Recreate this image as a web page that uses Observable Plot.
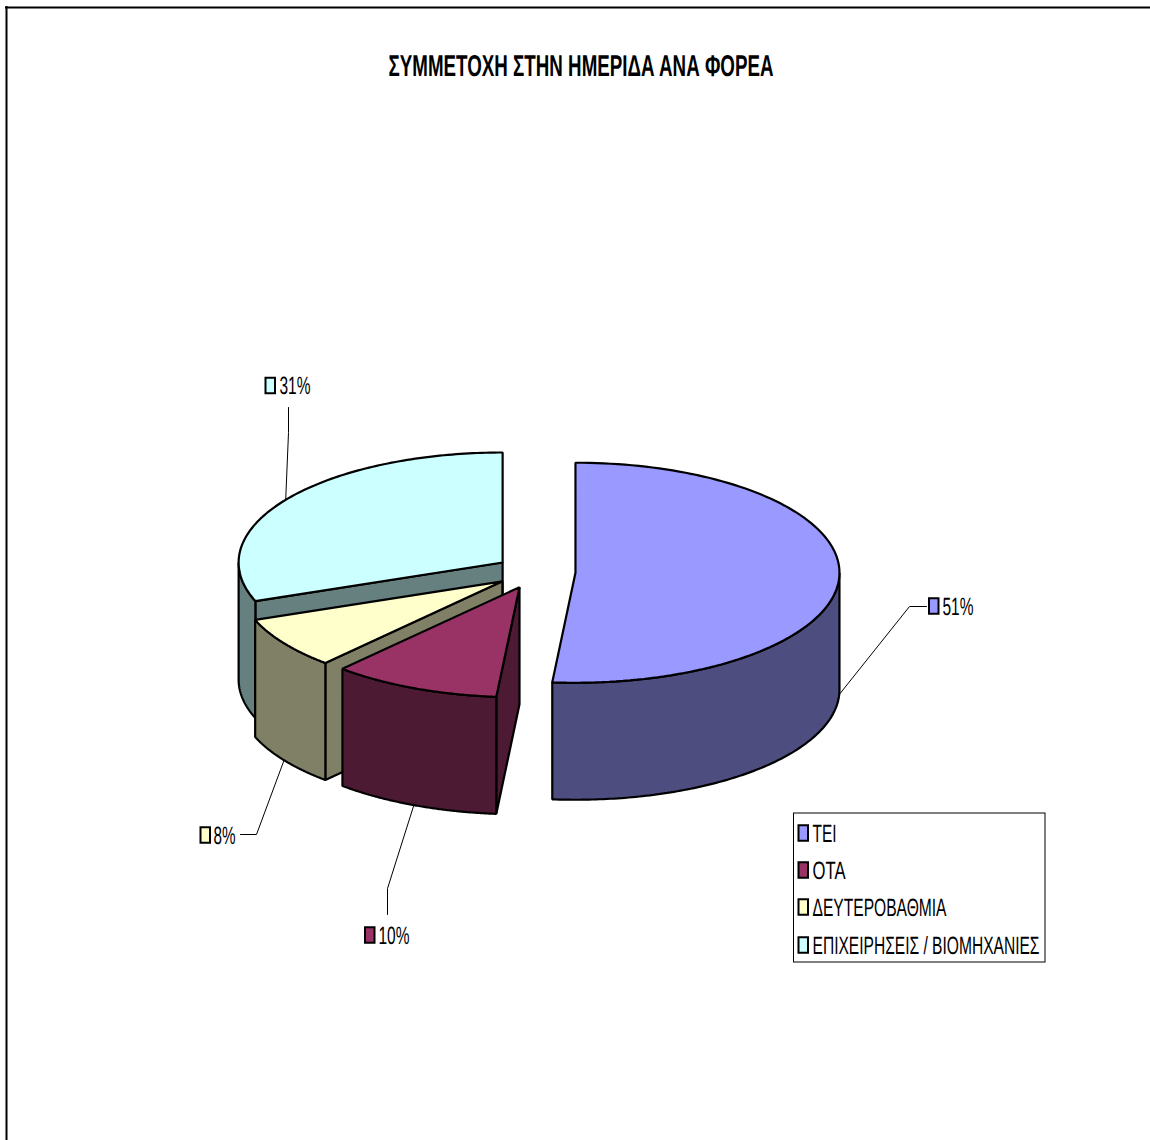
<!DOCTYPE html>
<html>
<head>
<meta charset="utf-8">
<script src="https://cdn.jsdelivr.net/npm/d3@7"></script>
<script src="https://cdn.jsdelivr.net/npm/@observablehq/plot@0.6"></script>
<style>html,body{margin:0;padding:0;background:#fff;overflow:hidden}svg{display:block}svg text{text-rendering:geometricPrecision}</style>
</head>
<body>
<div id="chart"></div>
<script>
const chartTitle = "ΣΥΜΜΕΤΟΧΗ ΣΤΗΝ ΗΜΕΡΙΔΑ ΑΝΑ ΦΟΡΕΑ";
const categories = ["ΤΕΙ", "ΟΤΑ", "ΔΕΥΤΕΡΟΒΑΘΜΙΑ", "ΕΠΙΧΕΙΡΗΣΕΙΣ / ΒΙΟΜΗΧΑΝΙΕΣ"];
const shares = [51.4, 10.3, 7.6, 30.7];
const topColors = ["#9999FF", "#993366", "#FFFFCC", "#CCFFFF"];
const wallColors = ["#4D4D80", "#4D1A33", "#808066", "#668080"];

// Layout of the pseudo-3D pie, in SVG units
const W = 1150, H = 1140;
const pie = {cx: 535, cy: 571.5, rx: 264, ry: 110, depth: 117, explode: 40};
const FONT = "'Liberation Sans', Arial, sans-serif";
// Data label layout: leader elbow, leader end, swatch left, text left, text centre y, text width
const labelLayout = [
  {elbow: [909, 606], end: [926, 606], sx: 929, tx: 942, ty: 606, tw: 31},
  {elbow: [387, 888], end: [387, 914], sx: 365, tx: 378, ty: 935, tw: 31},
  {elbow: [256, 834], end: [240, 834], sx: 200.5, tx: 213, ty: 835, tw: 22},
  {elbow: [288, 432], end: [288, 407], sx: 265.5, tx: 279, ty: 385.5, tw: 31}
];
const legendBox = {x1: 793.5, x2: 1045, y1: 813, y2: 962};
const legendRows = [
  {sx: 798.5, tx: 812, ty: 833, tw: 24},
  {sx: 798.5, tx: 812, ty: 870, tw: 33},
  {sx: 798.5, tx: 812, ty: 907, tw: 134},
  {sx: 798.5, tx: 812, ty: 945, tw: 227}
];

const rad = d => d * Math.PI / 180;
const total = d3.sum(shares);
let acc = 0;
const slices = shares.map((v, i) => {
  const a0 = acc / total * 360;
  acc += v;
  const a1 = acc / total * 360;
  const mid = (a0 + a1) / 2;
  return {
    i, a0, a1, mid,
    ax: pie.cx + pie.explode * Math.sin(rad(mid)),
    ay: pie.cy - pie.explode * Math.cos(rad(mid)) * pie.ry / pie.rx
  };
});
const rim = (s, a, drop = 0) => ({
  x: s.ax + pie.rx * Math.sin(rad(a)),
  y: s.ay - pie.ry * Math.cos(rad(a)) + drop
});
const arc = (s, a0, a1, drop = 0) =>
  d3.range(0, 121).map(k => rim(s, a0 + (a1 - a0) * k / 120, drop));

const polyMark = (pts, fill) => Plot.line(pts, {
  x: "x", y: "y", fill, stroke: "#000", strokeWidth: 2.2,
  curve: "linear-closed", strokeLinejoin: "miter"
});

const pieMarks = [];
// back to front: last slice first, the large right slice on its own
for (const s of [slices[3], slices[2], slices[1], slices[0]]) {
  const apex = {x: s.ax, y: s.ay}, apexLow = {x: s.ax, y: s.ay + pie.depth};
  const wall = wallColors[s.i];
  // cut face at the slice's start edge, when it faces the viewer
  if (s.a0 > 90 && s.a0 < 270) {
    pieMarks.push(polyMark([apex, rim(s, s.a0), rim(s, s.a0, pie.depth), apexLow], wall));
  }
  // cut face at the end edge, when it faces the viewer
  if (s.a1 < 90 || s.a1 > 270) {
    if (s.a1 < 360) pieMarks.push(polyMark([apex, rim(s, s.a1), rim(s, s.a1, pie.depth), apexLow], wall));
  }
  // outer wall, front half only
  const lo = Math.max(s.a0, 90), hi = Math.min(s.a1, 270);
  if (hi > lo) {
    pieMarks.push(polyMark([...arc(s, lo, hi), ...arc(s, hi, lo, pie.depth)], wall));
  }
  // top face
  pieMarks.push(polyMark([apex, ...arc(s, s.a0, s.a1)], topColors[s.i]));
}

// Leader lines start on the rim at each slice's mid angle
const leaders = slices.map(s => {
  const south = s.mid > 90 && s.mid < 270;
  const start = rim(s, s.mid, south || Math.abs(s.mid - 90) < 5 ? pie.depth : 0);
  const l = labelLayout[s.i];
  return [start, {x: l.elbow[0], y: l.elbow[1]}, {x: l.end[0], y: l.end[1]}];
});
const pctRows = slices.map(s => ({
  label: Math.round(shares[s.i]) + "%",
  color: topColors[s.i],
  ...labelLayout[s.i]
}));
const legRows = categories.map((c, i) => ({label: c, color: topColors[i], ...legendRows[i]}));
const SW = 9.5, SH = 15.5;
const swatch = rows => Plot.rect(rows, {
  x1: "sx", x2: d => d.sx + SW, y1: d => d.ty - SH / 2, y2: d => d.ty + SH / 2,
  fill: "color", stroke: "#000", strokeWidth: 2
});
const labelText = rows => Plot.text(rows, {
  x: "tx", y: "ty", text: "label", textAnchor: "start", lineAnchor: "middle",
  fontSize: 25, fontFamily: FONT, fill: "#000"
});

const plot = Plot.plot({
  width: W, height: H,
  marginTop: 0, marginRight: 0, marginBottom: 0, marginLeft: 0,
  x: {domain: [0, W], range: [0, W], axis: null},
  y: {domain: [0, H], range: [0, H], axis: null},
  color: {type: "identity"},
  style: {background: "#fff", overflow: "hidden"},
  marks: [
    Plot.ruleY([7], {x1: 5, x2: W, stroke: "#000", strokeWidth: 2}),
    Plot.ruleX([6], {y1: 6, y2: H, stroke: "#000", strokeWidth: 2}),
    Plot.text([chartTitle], {
      x: () => 580.5, y: () => 65.5, text: d => d, textAnchor: "middle", lineAnchor: "middle",
      fontSize: 30, fontWeight: "bold", fontFamily: FONT, fill: "#000"
    }),
    ...pieMarks,
    ...leaders.map(pts => Plot.line(pts, {x: "x", y: "y", stroke: "#000", strokeWidth: 1})),
    swatch(pctRows),
    labelText(pctRows),
    Plot.rect([legendBox], {x1: "x1", x2: "x2", y1: "y1", y2: "y2", fill: "#fff", stroke: "#000", strokeWidth: 1}),
    swatch(legRows),
    labelText(legRows)
  ]
});
document.getElementById("chart").appendChild(plot);

// The reference uses a condensed setting: squeeze each text horizontally to its measured width
const widths = new Map([
  [chartTitle, 385],
  ...pctRows.map(r => [r.label, r.tw]),
  ...legRows.map(r => [r.label, r.tw])
]);
plot.querySelectorAll("text").forEach(t => {
  const w = widths.get(t.textContent);
  if (w) {
    const k = w / t.getComputedTextLength();
    t.setAttribute("transform", `${t.getAttribute("transform") || ""} scale(${k},1)`);
  }
});
</script>
</body>
</html>
